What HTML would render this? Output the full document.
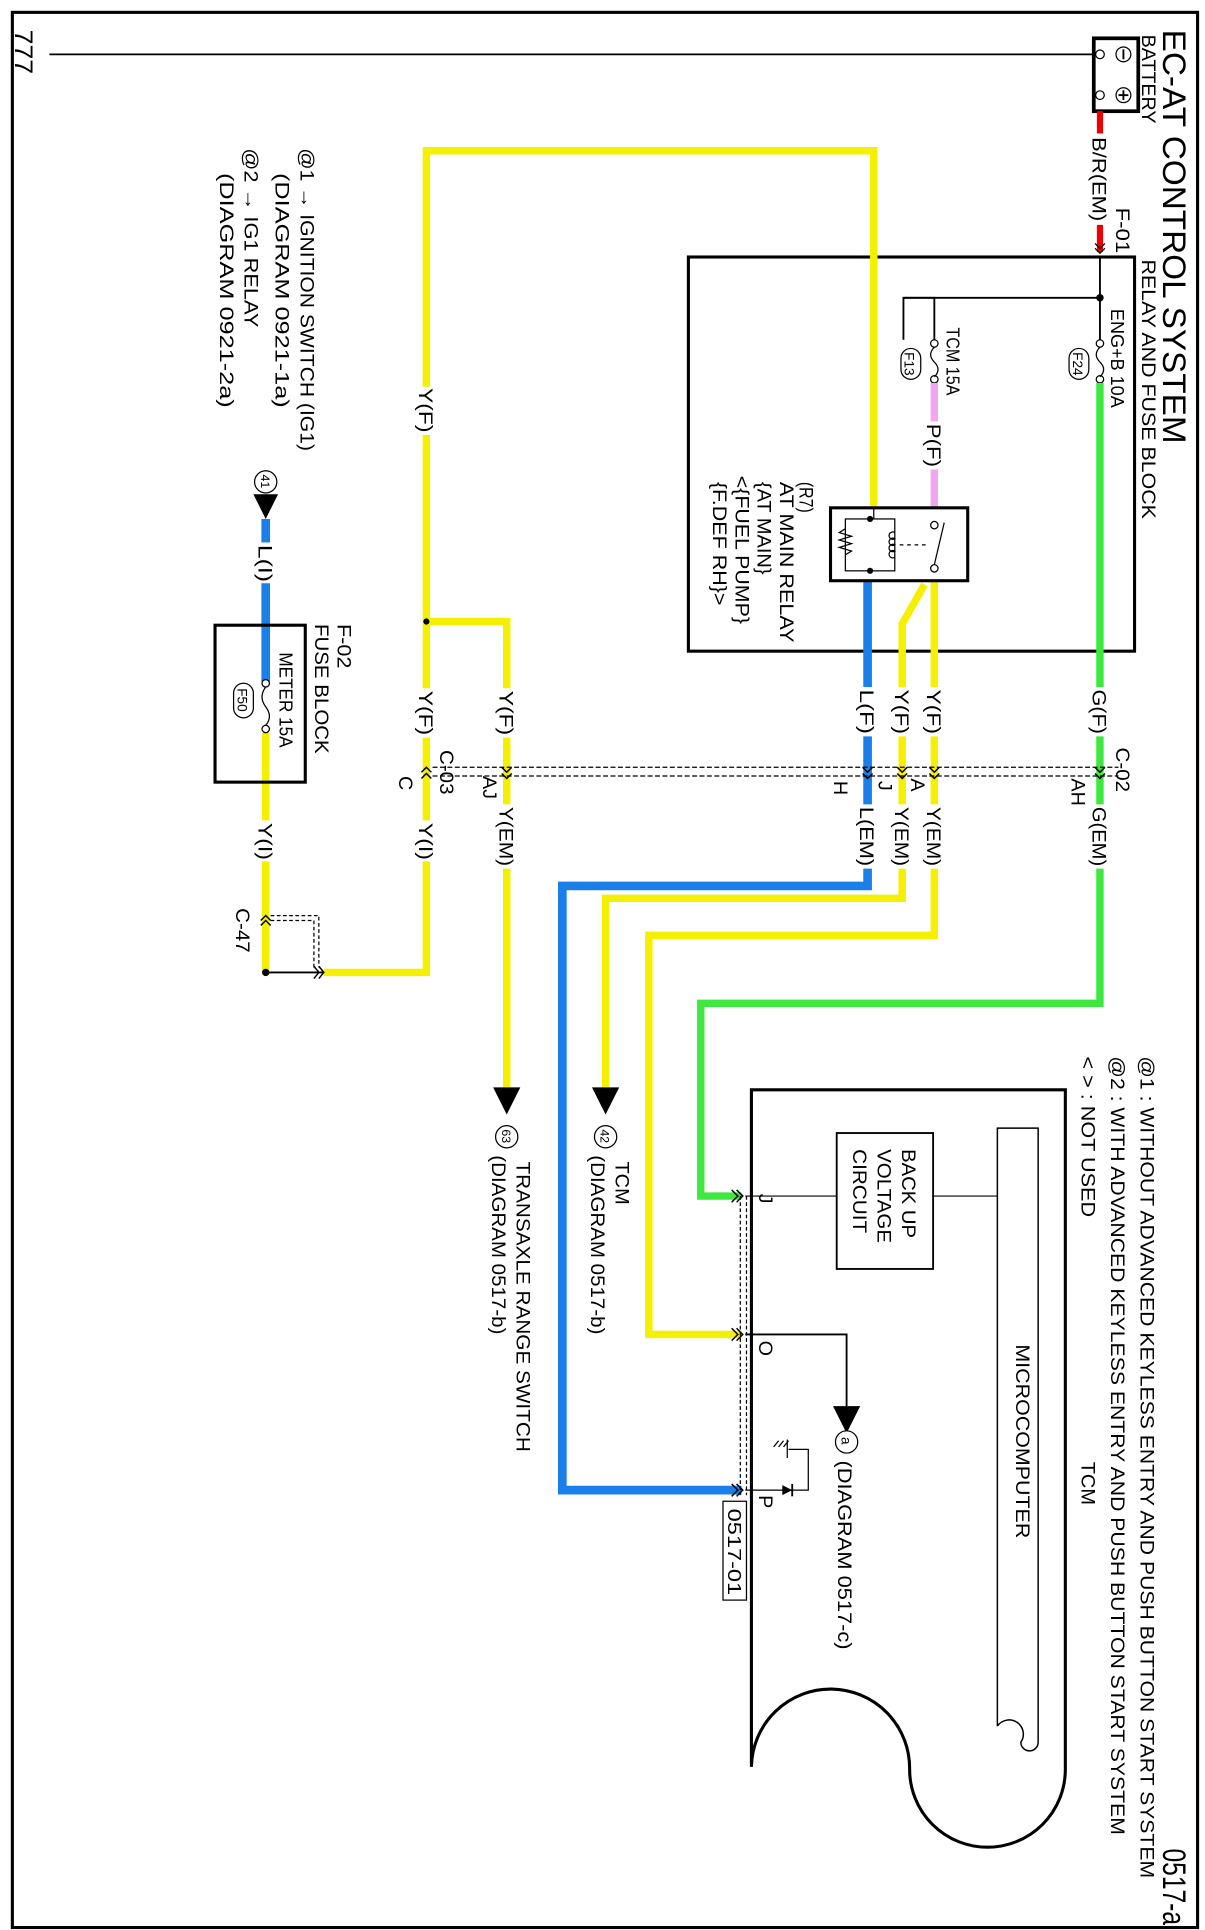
<!DOCTYPE html>
<html><head><meta charset="utf-8"><style>html,body{margin:0;padding:0;background:#fff}svg{display:block}text{font-family:"Liberation Sans",sans-serif;fill:#000}</style></head><body>
<svg width="1205" height="1930" viewBox="0 0 975 1562" preserveAspectRatio="none" xmlns="http://www.w3.org/2000/svg">
<rect x="10" y="10" width="959" height="1550" fill="none" stroke="#000" stroke-width="2.5"/>
<g font-size="16" lengthAdjust="spacingAndGlyphs">
<text font-size="26" textLength="335" lengthAdjust="spacingAndGlyphs" transform="translate(941,24) rotate(90)">EC-AT CONTROL SYSTEM</text>
<text font-size="26" textLength="62" lengthAdjust="spacingAndGlyphs" transform="translate(941,1496) rotate(90)">0517-a</text>
<text font-size="20" textLength="36" lengthAdjust="spacingAndGlyphs" transform="translate(12,24) rotate(90)">777</text>
<text textLength="72" lengthAdjust="spacingAndGlyphs" transform="translate(924,28) rotate(90)">BATTERY</text>
<text textLength="210" lengthAdjust="spacingAndGlyphs" transform="translate(924,210) rotate(90)">RELAY AND FUSE BLOCK</text>
<text textLength="37" lengthAdjust="spacingAndGlyphs" transform="translate(903,168) rotate(90)">F-01</text>
</g>
<line x1="40" y1="44" x2="886" y2="44" stroke="#000" stroke-width="1.5"/>
<rect x="885" y="31" width="36" height="59" fill="#fff" stroke="#000" stroke-width="3"/>
<circle cx="890" cy="44" r="3.5" fill="#fff" stroke="#000"/><circle cx="890" cy="77" r="3.5" fill="#fff" stroke="#000"/>
<circle cx="909" cy="44" r="6" fill="none" stroke="#000"/><line x1="909" y1="40" x2="909" y2="48" stroke="#000" stroke-width="1.5"/>
<circle cx="909" cy="77" r="6" fill="none" stroke="#000"/><line x1="909" y1="73" x2="909" y2="81" stroke="#000" stroke-width="1.5"/><line x1="905" y1="77" x2="913" y2="77" stroke="#000" stroke-width="1.5"/>
<line x1="890" y1="90" x2="890" y2="108" stroke="#e00" stroke-width="5"/>
<line x1="890" y1="182" x2="890" y2="204" stroke="#e00" stroke-width="5"/>
<text font-size="16" textLength="68" lengthAdjust="spacingAndGlyphs" transform="translate(884,111) rotate(90)">B/R(EM)</text>
<polyline points="886,197 890,201 894,197" fill="none" stroke="#000"/><polyline points="886,201 890,205 894,201" fill="none" stroke="#000"/>
<rect x="557" y="208" width="361" height="319" fill="none" stroke="#000" stroke-width="2.5"/>
<polyline points="890,208 890,275" fill="none" stroke="#000" stroke-width="1.5"/>
<circle cx="890" cy="241" r="3" fill="#000"/>
<polyline points="890,241 731,241 731,275" fill="none" stroke="#000" stroke-width="1.5"/>
<circle cx="890" cy="278" r="3" fill="#fff" stroke="#000"/><circle cx="890" cy="307" r="3" fill="#fff" stroke="#000"/>
<path d="M890,281 q-6,6 0,12 q6,6 0,12" fill="none" stroke="#000"/>
<circle cx="756" cy="278" r="3" fill="#fff" stroke="#000"/><circle cx="756" cy="307" r="3" fill="#fff" stroke="#000"/>
<path d="M756,281 q-6,6 0,12 q6,6 0,12" fill="none" stroke="#000"/>
<polyline points="731,241 756,241 756,275" fill="none" stroke="#000" stroke-width="1.5"/>
<text font-size="15" textLength="80" lengthAdjust="spacingAndGlyphs" transform="translate(899,250) rotate(90)">ENG+B 10A</text>
<text font-size="15" textLength="55" lengthAdjust="spacingAndGlyphs" transform="translate(766,265) rotate(90)">TCM 15A</text>
<rect x="865" y="282" width="16" height="25" rx="8" fill="#fff" stroke="#000"/>
<text font-size="11" transform="translate(868,285) rotate(90)">F24</text>
<rect x="729" y="282" width="16" height="25" rx="8" fill="#fff" stroke="#000"/>
<text font-size="11" transform="translate(732,285) rotate(90)">F13</text>
<line x1="756" y1="310" x2="756" y2="341" stroke="#f0a8f0" stroke-width="6"/>
<line x1="756" y1="380" x2="756" y2="411" stroke="#f0a8f0" stroke-width="6"/>
<text font-size="16" textLength="35" lengthAdjust="spacingAndGlyphs" transform="translate(750,343) rotate(90)">P(F)</text>
<g fill="none" stroke-linejoin="miter">
<polyline points="707,411 707,122 345,122 345,313" stroke="#f5f000" stroke-width="6"/>
<line x1="345" y1="352" x2="345" y2="557" stroke="#f5f000" stroke-width="6"/>
<polyline points="345,503 410,503 410,557" stroke="#f5f000" stroke-width="6"/>
<line x1="345" y1="597" x2="345" y2="664" stroke="#f5f000" stroke-width="6"/>
<polyline points="345,697 345,787 262,787" stroke="#f5f000" stroke-width="6"/>
<line x1="410" y1="597" x2="410" y2="651" stroke="#f5f000" stroke-width="6"/>
<line x1="410" y1="703" x2="410" y2="880" stroke="#f5f000" stroke-width="6"/>
<line x1="702" y1="470" x2="702" y2="556" stroke="#1a7fe8" stroke-width="7"/>
<line x1="702" y1="596" x2="702" y2="651" stroke="#1a7fe8" stroke-width="7"/>
<polyline points="702,703 702,717 455,717 455,1206 600,1206" stroke="#1a7fe8" stroke-width="7"/>
<polyline points="748,473 730,505 730,556" stroke="#f5f000" stroke-width="6"/>
<line x1="730" y1="596" x2="730" y2="651" stroke="#f5f000" stroke-width="6"/>
<polyline points="730,703 730,727 490,727 490,880" stroke="#f5f000" stroke-width="6"/>
<line x1="756" y1="470" x2="756" y2="556" stroke="#f5f000" stroke-width="6"/>
<line x1="756" y1="596" x2="756" y2="651" stroke="#f5f000" stroke-width="6"/>
<polyline points="756,703 756,757 525,757 525,1080 600,1080" stroke="#f5f000" stroke-width="6"/>
<line x1="890" y1="310" x2="890" y2="556" stroke="#3ee83e" stroke-width="6"/>
<line x1="890" y1="596" x2="890" y2="651" stroke="#3ee83e" stroke-width="6"/>
<polyline points="890,703 890,812 567,812 567,968 600,968" stroke="#3ee83e" stroke-width="6"/>
<line x1="215" y1="420" x2="215" y2="439" stroke="#1a7fe8" stroke-width="7"/>
<line x1="215" y1="472" x2="215" y2="552" stroke="#1a7fe8" stroke-width="7"/>
<line x1="215" y1="593" x2="215" y2="664" stroke="#f5f000" stroke-width="6"/>
<line x1="215" y1="697" x2="215" y2="787" stroke="#f5f000" stroke-width="6"/>
</g>
<circle cx="345" cy="503" r="2.5" fill="#000"/>
<line x1="215" y1="787" x2="262" y2="787" stroke="#000" stroke-width="1.5"/>
<circle cx="215" cy="787" r="3" fill="#000"/>
<rect x="672" y="411" width="111" height="59" fill="#fff" stroke="#000" stroke-width="2.5"/>
<line x1="707" y1="411" x2="707" y2="420" stroke="#000"/>
<rect x="684" y="420" width="40" height="42" fill="none" stroke="#000"/>
<circle cx="704" cy="420" r="2.5" fill="#000"/><circle cx="704" cy="462" r="2.5" fill="#000"/>
<path d="M684,428 l-5,3 l10,3 l-10,3 l10,3 l-10,3 l10,3 l-5,3" fill="none" stroke="#000"/>
<path d="M724,431 a3,3 0 1 0 0,5 a3,3 0 1 0 0,5 a3,3 0 1 0 0,5 a3,3 0 1 0 0,5" fill="none" stroke="#000"/>
<line x1="728" y1="441" x2="752" y2="441" stroke="#000" stroke-dasharray="3,3"/>
<circle cx="756" cy="425" r="3" fill="#fff" stroke="#000"/><circle cx="756" cy="460" r="3" fill="#fff" stroke="#000"/>
<line x1="756" y1="457" x2="764" y2="423" stroke="#000"/>
<g font-size="16">
<text textLength="25" lengthAdjust="spacingAndGlyphs" transform="translate(647,390) rotate(90)">(R7)</text>
<text textLength="130" lengthAdjust="spacingAndGlyphs" transform="translate(631,390) rotate(90)">AT MAIN RELAY</text>
<text textLength="75" lengthAdjust="spacingAndGlyphs" transform="translate(613,390) rotate(90)">{AT MAIN}</text>
<text textLength="120" lengthAdjust="spacingAndGlyphs" transform="translate(595,385) rotate(90)">&lt;{FUEL PUMP}</text>
<text textLength="100" lengthAdjust="spacingAndGlyphs" transform="translate(577,390) rotate(90)">{F.DEF RH}&gt;</text>
</g>
<g font-size="16">
<text textLength="36" lengthAdjust="spacingAndGlyphs" transform="translate(339,314) rotate(90)">Y(F)</text>
<text textLength="36" lengthAdjust="spacingAndGlyphs" transform="translate(404,559) rotate(90)">Y(F)</text>
<text textLength="36" lengthAdjust="spacingAndGlyphs" transform="translate(339,559) rotate(90)">Y(F)</text>
<text textLength="48" lengthAdjust="spacingAndGlyphs" transform="translate(404,653) rotate(90)">Y(EM)</text>
<text textLength="30" lengthAdjust="spacingAndGlyphs" transform="translate(339,666) rotate(90)">Y(I)</text>
<text textLength="36" lengthAdjust="spacingAndGlyphs" transform="translate(696,558) rotate(90)">L(F)</text>
<text textLength="36" lengthAdjust="spacingAndGlyphs" transform="translate(724,558) rotate(90)">Y(F)</text>
<text textLength="36" lengthAdjust="spacingAndGlyphs" transform="translate(750,558) rotate(90)">Y(F)</text>
<text textLength="36" lengthAdjust="spacingAndGlyphs" transform="translate(884,558) rotate(90)">G(F)</text>
<text textLength="48" lengthAdjust="spacingAndGlyphs" transform="translate(696,653) rotate(90)">L(EM)</text>
<text textLength="48" lengthAdjust="spacingAndGlyphs" transform="translate(724,653) rotate(90)">Y(EM)</text>
<text textLength="48" lengthAdjust="spacingAndGlyphs" transform="translate(750,653) rotate(90)">Y(EM)</text>
<text textLength="48" lengthAdjust="spacingAndGlyphs" transform="translate(884,653) rotate(90)">G(EM)</text>
<text textLength="30" lengthAdjust="spacingAndGlyphs" transform="translate(209,441) rotate(90)">L(I)</text>
<text textLength="30" lengthAdjust="spacingAndGlyphs" transform="translate(209,666) rotate(90)">Y(I)</text>
<text textLength="36" lengthAdjust="spacingAndGlyphs" transform="translate(903,605) rotate(90)">C-02</text>
<text transform="translate(867,630) rotate(90)">AH</text>
<text transform="translate(737,630) rotate(90)">A</text>
<text transform="translate(711,632) rotate(90)">J</text>
<text transform="translate(675,632) rotate(90)">H</text>
<text textLength="36" lengthAdjust="spacingAndGlyphs" transform="translate(356,607) rotate(90)">C-03</text>
<text transform="translate(391,628) rotate(90)">AJ</text>
<text transform="translate(323,628) rotate(90)">C</text>
<text textLength="36" lengthAdjust="spacingAndGlyphs" transform="translate(191,735) rotate(90)">C-47</text>
</g>
<line x1="350" y1="621" x2="905" y2="621" stroke="#000" stroke-dasharray="4,2"/>
<line x1="350" y1="628" x2="905" y2="628" stroke="#000" stroke-dasharray="4,2"/>
<g fill="none" stroke="#000" stroke-width="1.2">
<polyline points="886,621 890,625 894,621"/><polyline points="886,626 890,630 894,626"/>
<polyline points="752,621 756,625 760,621"/><polyline points="752,626 756,630 760,626"/>
<polyline points="726,621 730,625 734,621"/><polyline points="726,626 730,630 734,626"/>
<polyline points="698,621 702,625 706,621"/><polyline points="698,626 702,630 706,626"/>
<polyline points="406,621 410,625 414,621"/><polyline points="406,626 410,630 414,626"/>
<polyline points="341,625 345,621 349,625"/><polyline points="341,630 345,626 349,630"/>
<polyline points="211,745 215,741 219,745"/><polyline points="211,749 215,745 219,749"/>
<polyline points="258,782 262,787 258,792"/><polyline points="254,782 258,787 254,792"/>
<polyline points="596,963 601,968 596,973"/><polyline points="592,963 597,968 592,973"/>
<polyline points="596,1075 601,1080 596,1085"/><polyline points="592,1075 597,1080 592,1085"/>
<polyline points="596,1201 601,1206 596,1211"/><polyline points="592,1201 597,1206 592,1211"/>
</g>
<path d="M219,741 H258 V783 M219,745 H254 V783" fill="none" stroke="#000" stroke-dasharray="3,2"/>
<path d="M599,968 V1210 M604,968 V1210" fill="none" stroke="#000" stroke-dasharray="3,2"/>
<g font-size="16">
<text textLength="245" lengthAdjust="spacingAndGlyphs" transform="translate(243,120) rotate(90)">@1 → IGNITION SWITCH (IG1)</text>
<text textLength="190" lengthAdjust="spacingAndGlyphs" transform="translate(223,140) rotate(90)">(DIAGRAM 0921-1a)</text>
<text textLength="145" lengthAdjust="spacingAndGlyphs" transform="translate(198,120) rotate(90)">@2 → IG1 RELAY</text>
<text textLength="190" lengthAdjust="spacingAndGlyphs" transform="translate(178,140) rotate(90)">(DIAGRAM 0921-2a)</text>
<text textLength="36" lengthAdjust="spacingAndGlyphs" transform="translate(273,505) rotate(90)">F-02</text>
<text textLength="105" lengthAdjust="spacingAndGlyphs" transform="translate(255,505) rotate(90)">FUSE BLOCK</text>
<text font-size="15" textLength="77" lengthAdjust="spacingAndGlyphs" transform="translate(226,528) rotate(90)">METER 15A</text>
</g>
<circle cx="215" cy="390" r="9" fill="#fff" stroke="#000"/>
<text font-size="10" transform="translate(211,384) rotate(90)">41</text>
<polygon points="205,400 225,400 215,420" fill="#000"/>
<rect x="174" y="506" width="73" height="127" fill="none" stroke="#000" stroke-width="2.5"/>
<circle cx="215" cy="553" r="3" fill="#fff" stroke="#000"/><circle cx="215" cy="590" r="3" fill="#fff" stroke="#000"/>
<path d="M215,556 q-6,8 0,16 q6,8 0,15" fill="none" stroke="#000"/>
<rect x="189" y="553" width="16" height="28" rx="8" fill="#fff" stroke="#000"/>
<text font-size="11" transform="translate(192,557) rotate(90)">F50</text>
<polygon points="479,880 501,880 490,902" fill="#000"/>
<circle cx="490" cy="920" r="9" fill="#fff" stroke="#000"/>
<text font-size="10" transform="translate(486,914) rotate(90)">42</text>
<polygon points="399,880 421,880 410,902" fill="#000"/>
<circle cx="410" cy="920" r="9" fill="#fff" stroke="#000"/>
<text font-size="10" transform="translate(406,914) rotate(90)">63</text>
<g font-size="16">
<text textLength="35" lengthAdjust="spacingAndGlyphs" transform="translate(498,940) rotate(90)">TCM</text>
<text textLength="145" lengthAdjust="spacingAndGlyphs" transform="translate(478,935) rotate(90)">(DIAGRAM 0517-b)</text>
<text textLength="235" lengthAdjust="spacingAndGlyphs" transform="translate(418,940) rotate(90)">TRANSAXLE RANGE SWITCH</text>
<text textLength="145" lengthAdjust="spacingAndGlyphs" transform="translate(398,935) rotate(90)">(DIAGRAM 0517-b)</text>
</g>
<path d="M608,1430 V882 H862 V1432 A63,63 0 0 1 736,1432 A63,63 0 0 0 608,1430" fill="none" stroke="#000" stroke-width="2.5"/>
<path d="M807,1397 V913 H840 V1410 a7,7 0 0 1 -14,0 a9,9 0 0 0 -19,-13" fill="none" stroke="#000" stroke-width="1.2"/>
<text font-size="16" textLength="157" lengthAdjust="spacingAndGlyphs" transform="translate(822,1088) rotate(90)">MICROCOMPUTER</text>
<rect x="677" y="917" width="78" height="110" fill="none" stroke="#000" stroke-width="1.5"/>
<g font-size="16">
<text textLength="72" lengthAdjust="spacingAndGlyphs" transform="translate(730,930) rotate(90)">BACK UP</text>
<text textLength="76" lengthAdjust="spacingAndGlyphs" transform="translate(710,930) rotate(90)">VOLTAGE</text>
<text textLength="68" lengthAdjust="spacingAndGlyphs" transform="translate(690,930) rotate(90)">CIRCUIT</text>
</g>
<line x1="755" y1="968" x2="807" y2="968" stroke="#000"/>
<line x1="603" y1="968" x2="677" y2="968" stroke="#000"/>
<polyline points="603,1080 685,1080 685,1138" fill="none" stroke="#000" stroke-width="1.5"/>
<polygon points="674,1138 696,1138 685,1160" fill="#000"/>
<circle cx="685" cy="1167" r="9" fill="#fff" stroke="#000"/>
<text font-size="11" transform="translate(681,1163) rotate(90)">a</text>
<text font-size="16" textLength="153" lengthAdjust="spacingAndGlyphs" transform="translate(678,1182) rotate(90)">(DIAGRAM  0517-c)</text>
<polyline points="603,1206 654,1206 654,1173 638,1173" fill="none" stroke="#000"/>
<polygon points="633,1202 633,1210 641,1206" fill="#000"/>
<line x1="641" y1="1201" x2="641" y2="1211" stroke="#000" stroke-width="1.5"/>
<path d="M637,1165 V1180 M630,1166 l-4,5 M634,1166 l-4,5 M638,1166 l-4,5" fill="none" stroke="#000"/>
<g font-size="16">
<text transform="translate(614,966) rotate(90)">J</text>
<text transform="translate(614,1085) rotate(90)">O</text>
<text transform="translate(614,1210) rotate(90)">P</text>
</g>
<rect x="585" y="1215" width="19" height="80" fill="#fff" stroke="#000"/>
<text font-size="15" textLength="70" lengthAdjust="spacingAndGlyphs" transform="translate(589,1221) rotate(90)">0517-01</text>
<g font-size="16">
<text textLength="665" lengthAdjust="spacingAndGlyphs" transform="translate(923,855) rotate(90)">@1 : WITHOUT ADVANCED KEYLESS ENTRY AND PUSH BUTTON START SYSTEM</text>
<text textLength="630" lengthAdjust="spacingAndGlyphs" transform="translate(899,855) rotate(90)">@2 : WITH ADVANCED KEYLESS ENTRY AND PUSH BUTTON START SYSTEM</text>
<text textLength="130" lengthAdjust="spacingAndGlyphs" transform="translate(875,855) rotate(90)">&lt; &gt; : NOT USED</text>
<text textLength="35" lengthAdjust="spacingAndGlyphs" transform="translate(875,1183) rotate(90)">TCM</text>
</g>
</svg>
</body></html>
